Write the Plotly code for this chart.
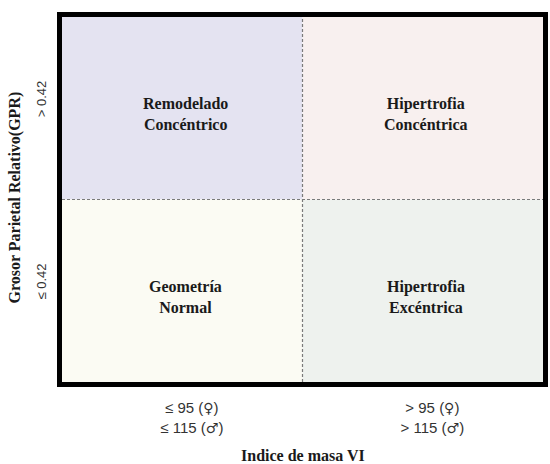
import plotly.graph_objects as go

# Data
x_low = ["≤ 95", "≤ 115"]
x_high = ["> 95", "> 115"]
sex_symbols = ["♀", "♂"]
y_categories = ["≤ 0.42", "> 0.42"]
quadrant_x = [0.5, 1.5, 0.5, 1.5]
quadrant_y = [1.5, 1.5, 0.5, 0.5]
quadrant_labels = ["Remodelado<br>Concéntrico", "Hipertrofia<br>Concéntrica",
                   "Geometría<br>Normal", "Hipertrofia<br>Excéntrica"]
quadrant_colors = ["#e4e3f1", "#f8f0ef", "#fbfbf3", "#eef2ee"]
x_title = "Indice de masa VI"
y_title = "Grosor Parietal Relativo(GPR)"

serif = "Liberation Serif, Times New Roman, serif"
sans = "Liberation Sans, Arial, sans-serif"
sym_style = "font-family:DejaVu Sans;font-size:14px"


def tick_label(values):
    return "<br>".join(
        f"{v} (<span style='{sym_style}'>{s}</span>)" for v, s in zip(values, sex_symbols)
    )


x_categories = [tick_label(x_low), tick_label(x_high)]

fig = go.Figure()

shapes = []
for cx, cy, col in zip(quadrant_x, quadrant_y, quadrant_colors):
    shapes.append(dict(type="rect", xref="x", yref="y", x0=cx - 0.5, x1=cx + 0.5,
                       y0=cy - 0.5, y1=cy + 0.5, fillcolor=col, line=dict(width=0),
                       layer="below"))
shapes.append(dict(type="line", xref="x", yref="y", x0=1, x1=1, y0=0, y1=2,
                   line=dict(color="#7a7a7a", width=1.2, dash="3px,2px")))
shapes.append(dict(type="line", xref="x", yref="y", x0=0, x1=2, y0=1, y1=1,
                   line=dict(color="#7a7a7a", width=1.2, dash="3px,2px")))

annotations = []
for cx, cy, lab in zip(quadrant_x, quadrant_y, quadrant_labels):
    annotations.append(dict(
        x=cx, y=cy, xref="x", yref="y", showarrow=False, xshift=3, yshift=-6,
        text="<b>" + lab.replace("<br>", "</b><br><b>") + "</b>",
        font=dict(family=serif, size=16, color="#1a1a1a"),
    ))
annotations.append(dict(text="<b>" + x_title + "</b>", xref="paper", yref="paper",
                        x=0.5, y=-0.2, yanchor="middle", xanchor="center", showarrow=False,
                        font=dict(family=serif, size=16, color="#1a1a1a")))
annotations.append(dict(text="<b>" + y_title + "</b>", xref="paper", yref="paper",
                        x=-0.098, xanchor="center", y=0.505, yanchor="middle", textangle=-90,
                        showarrow=False, font=dict(family=serif, size=16, color="#1a1a1a")))

# invisible trace to set up axes
fig.add_trace(go.Scatter(x=quadrant_x, y=quadrant_y, mode="markers",
                         marker=dict(opacity=0), hoverinfo="skip", showlegend=False))

fig.update_layout(
    width=550, height=464,
    margin=dict(l=62, r=7, t=17, b=82, autoexpand=False),
    paper_bgcolor="white", plot_bgcolor="white",
    shapes=shapes,
    annotations=annotations,
    showlegend=False,
    xaxis=dict(range=[0, 2], tickvals=[0.54, 1.54], ticktext=x_categories,
               showgrid=False, zeroline=False, showline=True, mirror=True,
               linecolor="black", linewidth=5, ticks="", ticklabelstandoff=8,
               tickfont=dict(family=sans, size=15, color="#333333"),
               fixedrange=True, automargin=False),
    yaxis=dict(range=[0, 2], tickvals=[0.54, 1.54], ticktext=y_categories,
               tickangle=-90, ticklabelstandoff=6,
               showgrid=False, zeroline=False, showline=True, mirror=True,
               linecolor="black", linewidth=5, ticks="",
               tickfont=dict(family=sans, size=13, color="#333333"),
               fixedrange=True, automargin=False),
)

fig.write_html("out.html", config={"displayModeBar": False},
               post_script="document.body.style.margin='0';")
